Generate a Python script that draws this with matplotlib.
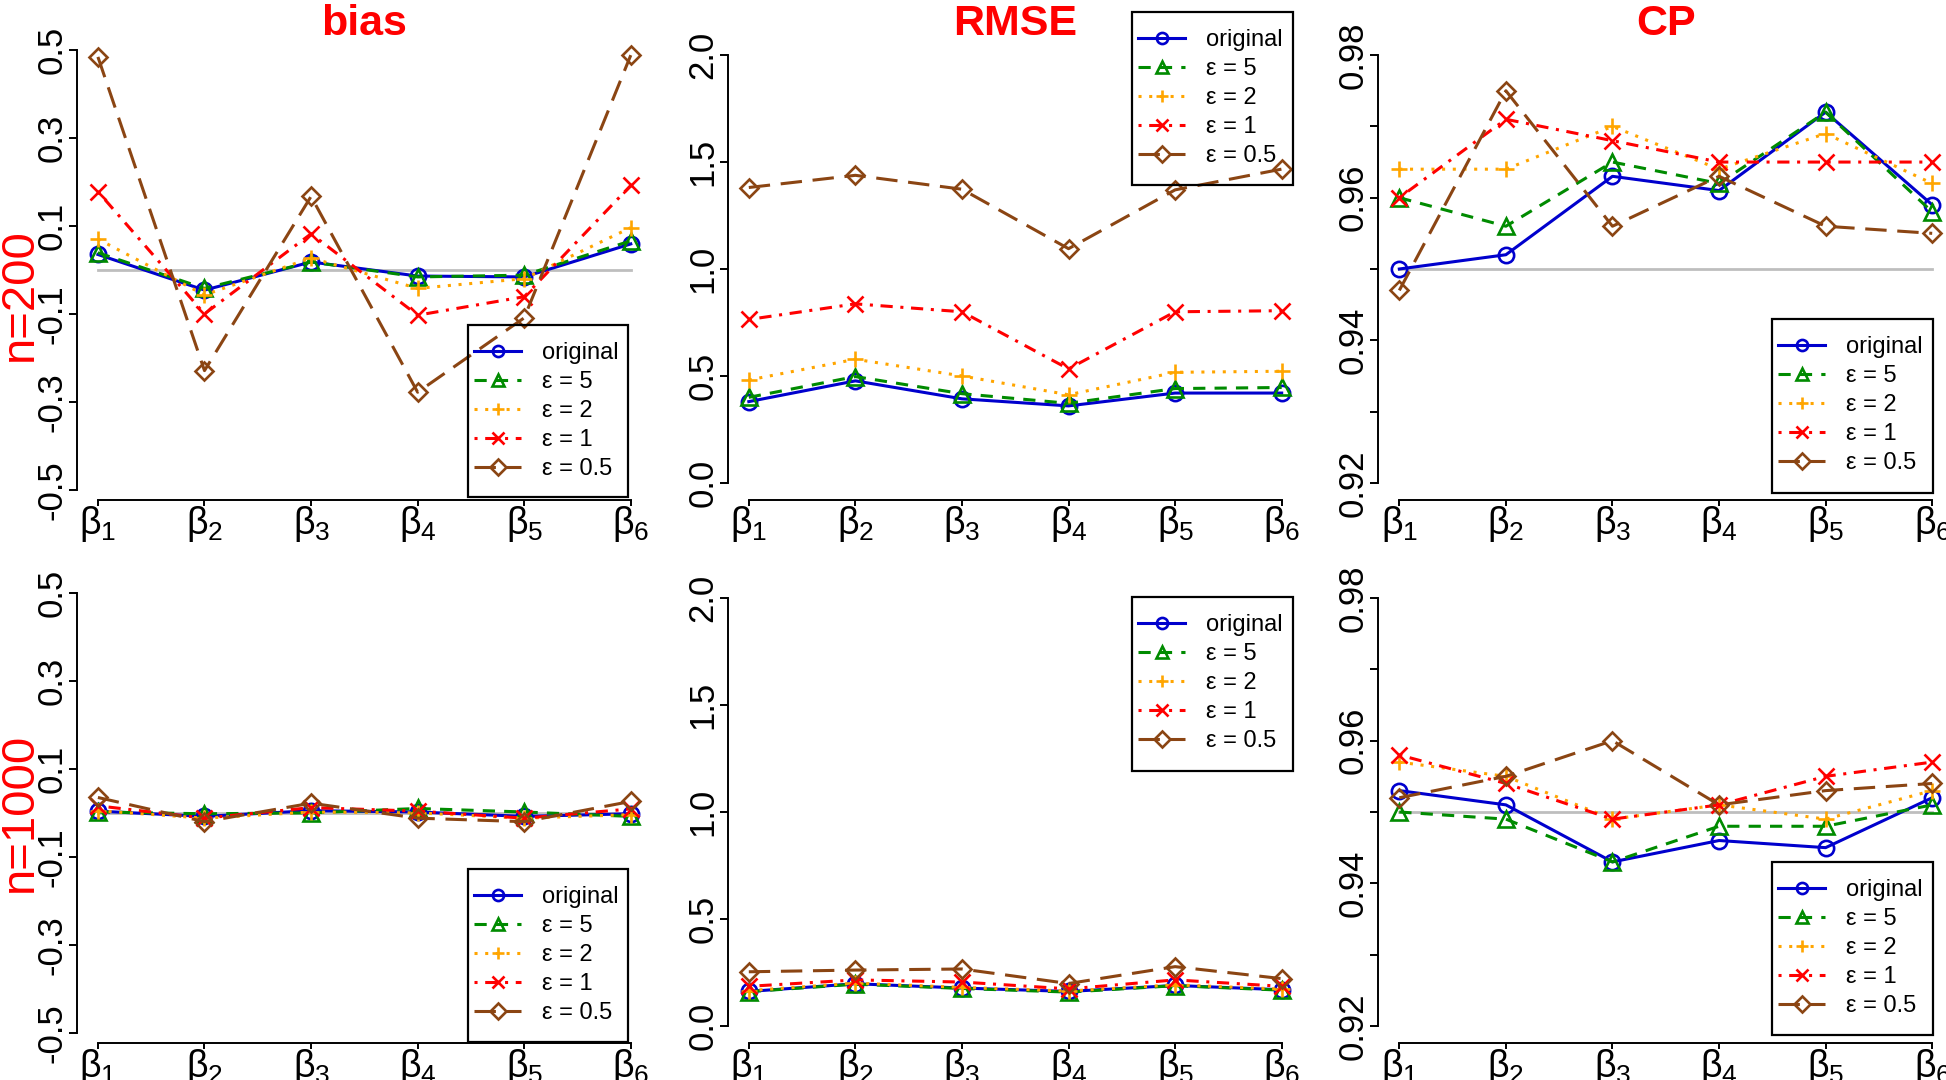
import matplotlib
matplotlib.use("Agg")
import matplotlib.pyplot as plt
from matplotlib.patches import Rectangle

plt.rcParams['font.family'] = ['Liberation Sans', 'DejaVu Sans']
plt.rcParams['mathtext.fontset'] = 'custom'
plt.rcParams['mathtext.rm'] = 'Liberation Sans'
plt.rcParams['mathtext.it'] = 'Liberation Sans'

# data
coef = [1, 2, 3, 4, 5, 6]
coef_labels = [r'$\beta_%d$' % i for i in coef]
methods = ['original', 'eps5', 'eps2', 'eps1', 'eps05']
legend_labels = ['original', 'ε = 5', 'ε = 2', 'ε = 1', 'ε = 0.5']

bias_200 = {
    'original': [0.035, -0.046, 0.018, -0.014, -0.016, 0.059],
    'eps5': [0.039, -0.042, 0.018, -0.016, -0.012, 0.066],
    'eps2': [0.070, -0.057, 0.027, -0.042, -0.020, 0.096],
    'eps1': [0.178, -0.100, 0.082, -0.103, -0.061, 0.192],
    'eps05': [0.484, -0.229, 0.167, -0.278, -0.109, 0.488],
}
rmse_200 = {
    'original': [0.380, 0.477, 0.393, 0.360, 0.420, 0.420],
    'eps5': [0.400, 0.497, 0.417, 0.372, 0.441, 0.446],
    'eps2': [0.481, 0.578, 0.500, 0.412, 0.517, 0.522],
    'eps1': [0.764, 0.837, 0.800, 0.533, 0.800, 0.805],
    'eps05': [1.381, 1.438, 1.373, 1.095, 1.370, 1.467],
}
cp_200 = {
    'original': [0.950, 0.952, 0.963, 0.961, 0.972, 0.959],
    'eps5': [0.960, 0.956, 0.965, 0.962, 0.972, 0.958],
    'eps2': [0.964, 0.964, 0.970, 0.964, 0.969, 0.962],
    'eps1': [0.960, 0.971, 0.968, 0.965, 0.965, 0.965],
    'eps05': [0.947, 0.975, 0.956, 0.963, 0.956, 0.955],
}
bias_1000 = {
    'original': [0.004, -0.008, 0.005, 0.002, -0.008, -0.002],
    'eps5': [0.002, -0.002, 0.000, 0.010, 0.002, -0.008],
    'eps2': [0.005, -0.012, 0.002, 0.000, -0.012, -0.004],
    'eps1': [0.016, -0.012, 0.012, 0.004, -0.012, 0.009],
    'eps05': [0.035, -0.020, 0.022, -0.012, -0.020, 0.026],
}
rmse_1000 = {
    'original': [0.161, 0.197, 0.177, 0.161, 0.189, 0.169],
    'eps5': [0.160, 0.195, 0.175, 0.158, 0.188, 0.167],
    'eps2': [0.165, 0.200, 0.180, 0.163, 0.192, 0.172],
    'eps1': [0.185, 0.215, 0.205, 0.173, 0.215, 0.185],
    'eps05': [0.253, 0.261, 0.266, 0.198, 0.277, 0.221],
}
cp_1000 = {
    'original': [0.953, 0.951, 0.943, 0.946, 0.945, 0.952],
    'eps5': [0.950, 0.949, 0.943, 0.948, 0.948, 0.951],
    'eps2': [0.957, 0.955, 0.949, 0.951, 0.949, 0.953],
    'eps1': [0.958, 0.954, 0.949, 0.951, 0.955, 0.957],
    'eps05': [0.952, 0.955, 0.960, 0.951, 0.953, 0.954],
}

bias_ticks = [-0.5, -0.3, -0.1, 0.1, 0.3, 0.5]
rmse_ticks = [0.0, 0.5, 1.0, 1.5, 2.0]
cp_ticks = [0.92, 0.93, 0.94, 0.95, 0.96, 0.97, 0.98]
cp_labels = ['0.92', '', '0.94', '', '0.96', '', '0.98']

# styles (R-like)
styles = {
    'original': dict(color='#0000CD', marker='o', dashes=()),
    'eps5': dict(color='#008B00', marker='^', dashes=(4, 3)),
    'eps2': dict(color='#FFA500', marker='+', dashes=(1, 2.5)),
    'eps1': dict(color='#FF0000', marker='x', dashes=(1, 2.5, 4, 2.5)),
    'eps05': dict(color='#8B4513', marker='D', dashes=(7, 3.5)),
}

W, H = 1946, 1080
fig = plt.figure(figsize=(W / 100, H / 100), dpi=100)

col_left = [76.6, 727.5, 1378.0]
col_w = 575.5
row_top = [38, 581]
row_h = 462

panels = [
    (0, 0, bias_200, 'bias', (-0.523, 0.527), bias_ticks, None, 0.0),
    (0, 1, rmse_200, 'RMSE', (-0.08, 2.08), rmse_ticks, None, None),
    (0, 2, cp_200, 'CP', (0.9176, 0.9824), cp_ticks, cp_labels, 0.95),
    (1, 0, bias_1000, None, (-0.523, 0.527), bias_ticks, None, 0.0),
    (1, 1, rmse_1000, None, (-0.08, 2.08), rmse_ticks, None, None),
    (1, 2, cp_1000, None, (0.9176, 0.9824), cp_ticks, cp_labels, 0.95),
]

# legend frames (pixels: left, top, right, bottom)
leg_boxes = {
    (0, 0): (468, 325, 628, 497),
    (0, 1): (1132, 12, 1293, 185),
    (0, 2): (1772, 319, 1933, 493),
    (1, 0): (468, 869, 628, 1042),
    (1, 1): (1132, 597, 1293, 771),
    (1, 2): (1772, 862, 1933, 1035),
}

for r, c, data, title, ylim, yticks, ylabels, ref in panels:
    x0 = col_left[c]
    y1 = row_top[r] + row_h
    ax = fig.add_axes([x0 / W, 1 - y1 / H, col_w / W, row_h / H])
    ax.set_xlim(0.8, 6.2)
    ax.set_ylim(*ylim)
    if ref is not None:
        ax.plot([coef[0], coef[-1]], [ref, ref], color='#BEBEBE', lw=2, zorder=1)
    for m, lab in zip(methods, legend_labels):
        st = styles[m]
        ln, = ax.plot(coef, data[m], color=st['color'], marker=st['marker'],
                      markersize=11 if st['marker'] != 'D' else 9,
                      markerfacecolor='none', markeredgecolor=st['color'],
                      markeredgewidth=1.9, lw=2.2, label=lab, zorder=3)
        if st['dashes']:
            ln.set_dashes(st['dashes'])
    for s in ['top', 'right']:
        ax.spines[s].set_visible(False)
    ax.spines['left'].set_bounds(yticks[0], yticks[-1])
    ax.spines['bottom'].set_bounds(coef[0], coef[-1])
    ax.spines['left'].set_linewidth(1.4)
    ax.spines['bottom'].set_linewidth(1.4)
    ax.set_yticks(yticks)
    if ylabels is not None:
        ax.set_yticklabels(ylabels)
    else:
        ax.set_yticklabels(['%.1f' % t for t in yticks])
    ax.set_xticks(coef)
    ax.set_xticklabels(coef_labels)
    ax.tick_params(axis='y', labelsize=25, length=6, width=1.4, pad=0)
    ax.tick_params(axis='x', labelsize=27, length=4, width=1.4, pad=-1)
    for t in ax.get_yticklabels():
        t.set_rotation(90)
        t.set_va('center')
        t.set_ha('right')
    if title:
        ax.text(0.5, 1 + (38 - 24) / row_h, title, transform=ax.transAxes,
                ha='center', va='center', fontsize=31, fontweight='bold', color='red')

    # legend with a plain rectangle frame
    bl, bt, br, bb = leg_boxes[(r, c)]
    fig.patches.append(Rectangle((bl / W, 1 - bb / H), (br - bl) / W, (bb - bt) / H,
                                 transform=fig.transFigure, fill=False,
                                 edgecolor='black', lw=1.6, zorder=5))
    leg = ax.legend(loc='upper left', bbox_to_anchor=((bl + 6) / W, 1 - (bt + 17) / H),
                    bbox_transform=fig.transFigure, frameon=False, fontsize=17,
                    borderpad=0, borderaxespad=0, handlelength=2.0,
                    handletextpad=0.9, labelspacing=0.30)
    for h in leg.legend_handles:
        h.set_markersize(8)

fig.text(20 / W, 1 - 295 / H, 'n=200', rotation=90, ha='center', va='center',
         fontsize=34, color='red')
fig.text(20 / W, 1 - 812 / H, 'n=1000', rotation=90, ha='center', va='center',
         fontsize=34, color='red')

fig.savefig('out.png', dpi=100)
